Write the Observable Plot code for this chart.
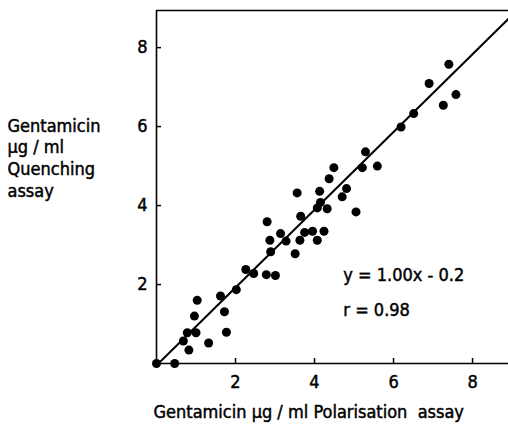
<!DOCTYPE html>
<html>
<head>
<meta charset="utf-8">
<script src="https://cdn.jsdelivr.net/npm/d3@7"></script>
<script src="https://cdn.jsdelivr.net/npm/@observablehq/plot@0.6"></script>
<style>
  html, body { margin: 0; padding: 0; background: #fff; }
  #chart svg { display: block; }
  #chart svg text { stroke: #000; stroke-width: 0.45px; }
</style>
</head>
<body>
<div id="chart"></div>
<script>
// Polarisation assay (x) vs Quenching assay (y), gentamicin µg/ml
const polarisation = [0.00, 0.46, 0.68, 0.78, 0.82, 1.00, 0.96, 1.03, 1.32, 1.62, 1.72, 1.77,
  2.02, 2.26, 2.46, 2.78, 3.01, 2.80, 2.87, 2.89, 3.14, 3.28, 3.51, 3.56, 3.65, 3.63,
  3.75, 3.95, 4.07, 4.24, 4.07, 4.15, 4.13, 4.32, 4.37, 4.49, 4.70, 4.81, 5.05, 5.21,
  5.29, 5.59, 6.19, 6.51, 6.90, 7.26, 7.40, 7.58];
const quenching = [0.00, 0.00, 0.57, 0.78, 0.34, 0.78, 1.20, 1.60, 0.52, 1.71, 1.31, 0.79,
  1.87, 2.38, 2.28, 2.25, 2.23, 3.59, 3.12, 2.83, 3.29, 3.10, 2.78, 4.32, 3.73, 3.12,
  3.32, 3.35, 3.12, 3.35, 3.94, 4.08, 4.36, 3.92, 4.68, 4.96, 4.22, 4.43, 3.84, 4.96,
  5.36, 5.00, 5.99, 6.33, 7.09, 6.54, 7.58, 6.81];

// Fitted line as drawn (end points)
const fitX = [0.10, 8.91];
const fitY = [0.05, 8.73];

const tickValues = [2, 4, 6, 8];
const xDomain = [0, 8.91];
const yDomain = [0, 8.94];

const equationLines = ["y = 1.00x - 0.2", "r = 0.98"];
const equationX = [4.73, 4.73];
const equationY = [2.24, 1.36];

const xLabel = "Gentamicin µg / ml Polarisation  assay";
const yLabel = "Gentamicin\nµg / ml\nQuenching\nassay";

const points = polarisation.map((x, i) => ({x, y: quenching[i]}));
const fit = fitX.map((x, i) => ({x, y: fitY[i]}));
const eq = equationLines.map((t, i) => ({t, x: equationX[i], y: equationY[i]}));

const FONT = "'DejaVu Sans Condensed', 'DejaVu Sans', sans-serif";

const chart = Plot.plot({
  width: 508,
  height: 428,
  marginLeft: 156,
  marginRight: 0,
  marginTop: 10,
  marginBottom: 65,
  style: {fontFamily: FONT, fontSize: "18px", color: "#000", background: "#fff"},
  x: {domain: xDomain},
  y: {domain: yDomain},
  marks: [
    Plot.ruleX([0], {stroke: "#000", strokeWidth: 1.6}),
    Plot.ruleY([0], {stroke: "#000", strokeWidth: 1.6}),
    Plot.ruleY([yDomain[1]], {stroke: "#000", strokeWidth: 1.6}),
    Plot.axisX({ticks: tickValues, tickSize: -5, tickPadding: 17, tickFormat: d => String(d), label: null, fontSize: 18, strokeWidth: 1.5}),
    Plot.axisY({ticks: tickValues, tickSize: -5, tickPadding: 14, tickFormat: d => String(d), label: null, fontSize: 18, strokeWidth: 1.5}),
    Plot.line(fit, {x: "x", y: "y", stroke: "#000", strokeWidth: 2}),
    Plot.dot(points, {x: "x", y: "y", r: 4.5, fill: "#000", stroke: "none"}),
    Plot.text(eq, {x: "x", y: "y", text: "t", textAnchor: "start", fontSize: 18, fill: "#000"}),
    Plot.text([yLabel], {frameAnchor: "top-left", dx: -149, dy: 106, textAnchor: "start", lineAnchor: "top", lineHeight: 1.2, fontSize: 18, fill: "#000"}),
    Plot.text([xLabel], {frameAnchor: "bottom-left", dx: -3, dy: 49, textAnchor: "start", lineAnchor: "middle", fontSize: 18, fill: "#000"})
  ]
});
document.getElementById("chart").appendChild(chart);
</script>
</body>
</html>
